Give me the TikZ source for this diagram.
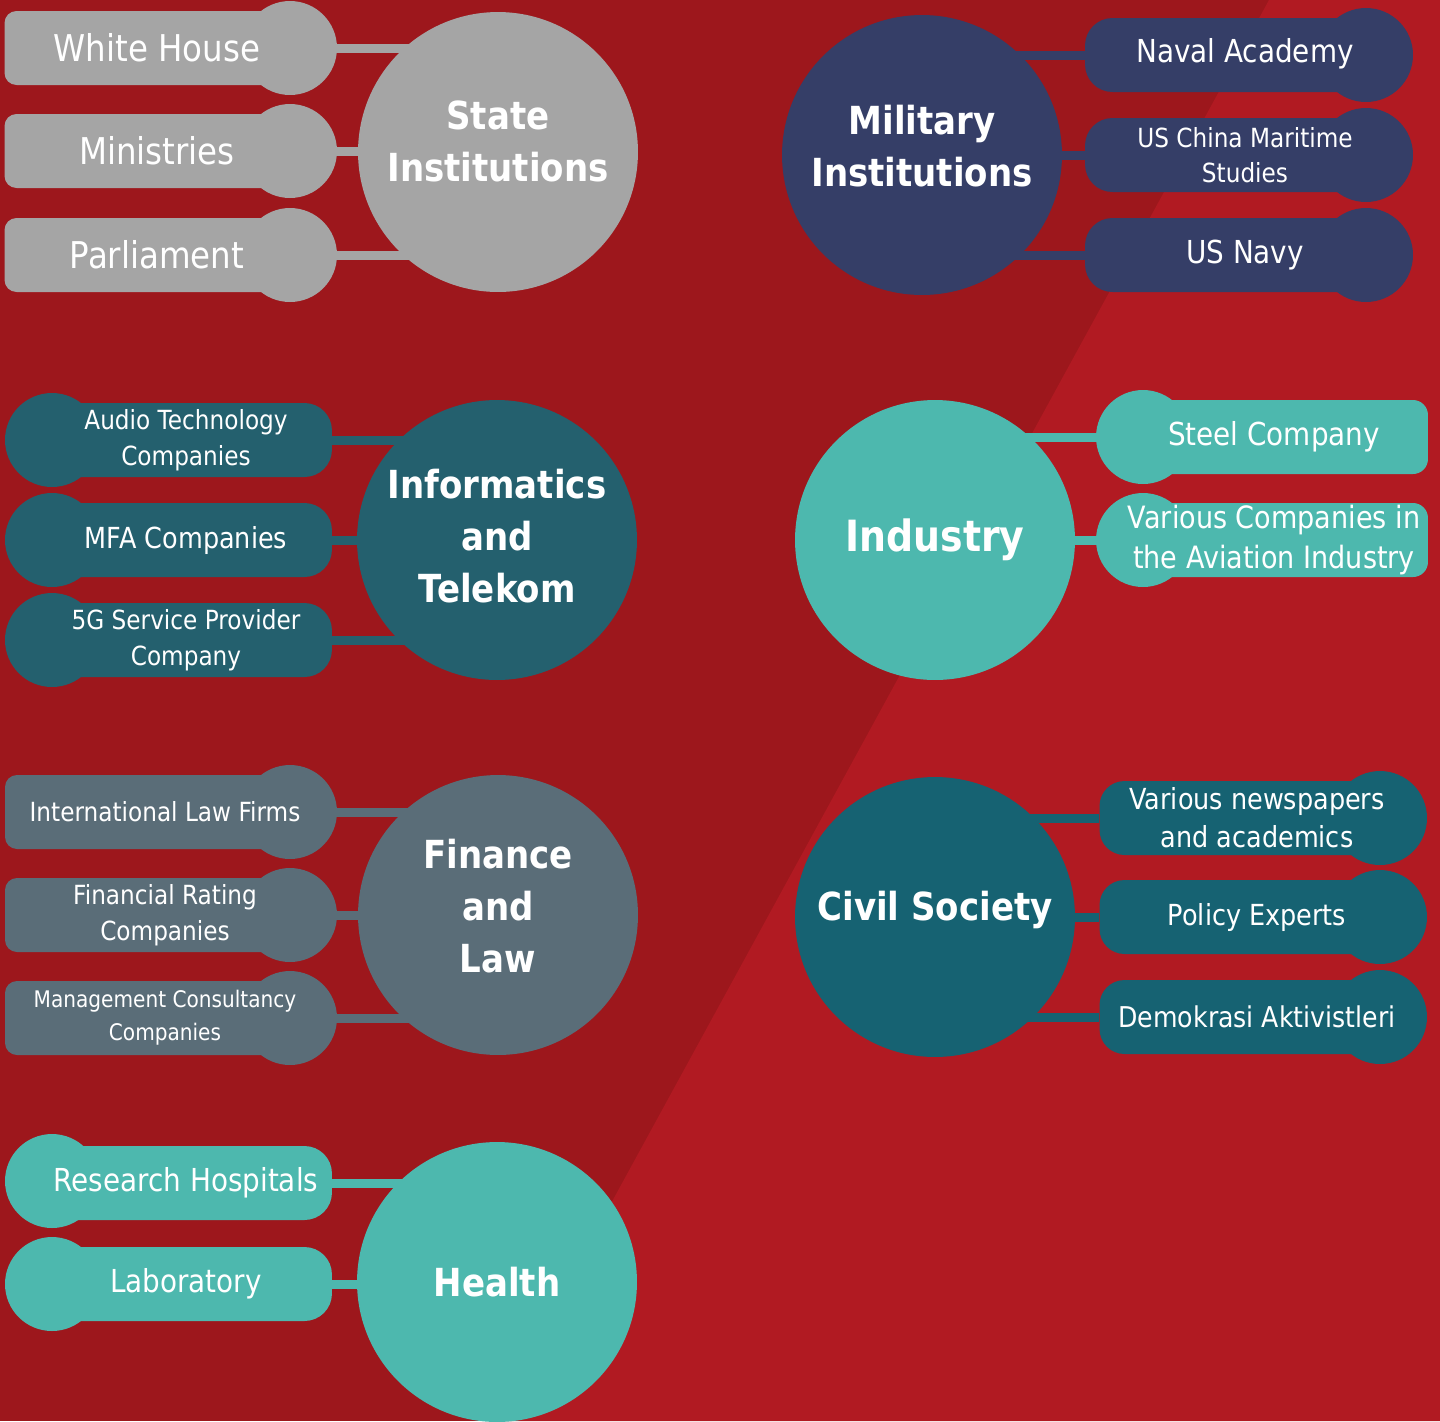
\documentclass[tikz,border=0pt]{standalone}
\usepackage{fontspec}
\setmainfont{DejaVu Sans}[FakeStretch=0.88]
\usetikzlibrary{backgrounds}

\definecolor{bgdark}{HTML}{9D171C}
\definecolor{bglight}{HTML}{B11A22}
\definecolor{stategray}{HTML}{A5A5A5}
\definecolor{navy}{HTML}{353E67}
\definecolor{infoteal}{HTML}{24606E}
\definecolor{aqua}{HTML}{4DB8AE}
\definecolor{slate}{HTML}{5A6D78}
\definecolor{civilteal}{HTML}{166272}

\begin{document}
\begin{tikzpicture}[
x=0.02cm, y=-0.02cm,
hub/.style={
circle,
minimum size=5.6cm,
inner sep=0 pt,
text=white,
align=center,
font=\fontsize{22}{29.6}\bfseries,
},
lift/.style={text depth=#1},
leaf/.style={
rectangle,
rounded corners=0.55cm,
minimum height=1.48cm,
inner sep=0 pt,
text=white,
align=center,
},
knob/.style={circle, minimum size=1.88cm, inner sep=0 pt},
link/.style={line width=0.18cm},
]
\useasboundingbox (0,0) rectangle (1440,1421);

% state institutions
\node [hub, fill=stategray, lift=12.5pt] at (498,152) (state) {State\\Institutions};
\node [knob, fill=stategray] at (290,48) (whk) {};
\node [knob, fill=stategray] at (290,151) (mik) {};
\node [knob, fill=stategray] at (290,255) (pak) {};
\node [leaf, fill=stategray, rounded corners=0.24cm, minimum width=6.1cm,
font=\fontsize{21}{25}\selectfont] at (157,48) (wh) {White House};
\node [leaf, fill=stategray, rounded corners=0.24cm, minimum width=6.1cm,
font=\fontsize{21}{25}\selectfont] at (157,151) (mi) {Ministries};
\node [leaf, fill=stategray, rounded corners=0.24cm, minimum width=6.1cm,
font=\fontsize{21}{25}\selectfont] at (157,255) (pa) {Parliament};

% military institutions
\node [hub, fill=navy, lift=11pt] at (922,155) (military) {Military\\Institutions};
\node [knob, fill=navy] at (1366,55) (nak) {};
\node [knob, fill=navy] at (1366,155) (uck) {};
\node [knob, fill=navy] at (1366,255) (unk) {};
\node [leaf, fill=navy, minimum width=6.4cm, lift=5pt,
font=\fontsize{18}{22}\selectfont] at (1245,55) (na) {Naval Academy};
\node [leaf, fill=navy, minimum width=6.4cm,
font=\fontsize{15}{20}\selectfont] at (1245,155) (uc) {US China Maritime\\Studies};
\node [leaf, fill=navy, minimum width=6.4cm,
font=\fontsize{18}{22}\selectfont] at (1245,255) (un) {US Navy};

% informatics and telekom
\node [hub, fill=infoteal, lift=4.5pt] at (497,540) (info) {Informatics\\and\\Telekom};
\node [knob, fill=infoteal] at (52,440) (atk) {};
\node [knob, fill=infoteal] at (52,540) (mfak) {};
\node [knob, fill=infoteal] at (52,640) (fgk) {};
\node [leaf, fill=infoteal, minimum width=5.84cm,
font=\fontsize{15}{20.5}\selectfont] at (186,440) (at) {Audio Technology\\Companies};
\node [leaf, fill=infoteal, minimum width=5.84cm,
font=\fontsize{16.5}{20.5}\selectfont] at (186,540) (mfa) {MFA Companies};
\node [leaf, fill=infoteal, minimum width=5.84cm,
font=\fontsize{15}{20.5}\selectfont] at (186,640) (fg) {5G Service Provider\\Company};

% industry
\node [hub, fill=aqua, font=\fontsize{24.5}{30}\bfseries] at (935,540) (industry) {Industry};
\node [knob, fill=aqua] at (1143,437) (sck) {};
\node [knob, fill=aqua] at (1143,540) (vck) {};
\node [leaf, fill=aqua, rounded corners=0.3cm, minimum width=6.16cm,
font=\fontsize{18}{22}\selectfont] at (1274,437) (sc) {Steel Company};
\node [leaf, fill=aqua, rounded corners=0.3cm, minimum width=6.16cm,
font=\fontsize{17.5}{22.8}\selectfont] at (1274,540) (vc) {Various Companies in\\the Aviation Industry};

% finance and law
\node [hub, fill=slate, lift=11pt] at (498,915) (finance) {Finance\\and\\Law};
\node [knob, fill=slate] at (290,812) (ilk) {};
\node [knob, fill=slate] at (290,915) (frk) {};
\node [knob, fill=slate] at (290,1018) (mck) {};
\node [leaf, fill=slate, rounded corners=0.24cm, minimum width=6.4cm,
font=\fontsize{15}{20.5}\selectfont] at (165,812) (il) {International Law Firms};
\node [leaf, fill=slate, rounded corners=0.24cm, minimum width=6.4cm,
font=\fontsize{15}{20.5}\selectfont] at (165,915) (fr) {Financial Rating\\Companies};
\node [leaf, fill=slate, rounded corners=0.24cm, minimum width=6.4cm,
font=\fontsize{13}{18.8}\selectfont] at (165,1018) (mc) {Management Consultancy\\Companies};

% civil society
\node [hub, fill=civilteal, lift=13pt] at (935,917) (civil) {Civil Society};
\node [knob, fill=civilteal] at (1380,818) (vnk) {};
\node [knob, fill=civilteal] at (1380,917) (pek) {};
\node [knob, fill=civilteal] at (1380,1017) (dak) {};
\node [leaf, fill=civilteal, rounded corners=0.5cm, minimum width=6.3cm,
font=\fontsize{16.5}{21.6}\selectfont] at (1257,818) (vn) {Various newspapers\\and academics};
\node [leaf, fill=civilteal, rounded corners=0.5cm, minimum width=6.3cm,
font=\fontsize{16.5}{21.6}\selectfont] at (1257,917) (pe) {Policy Experts};
\node [leaf, fill=civilteal, rounded corners=0.5cm, minimum width=6.3cm,
font=\fontsize{16.3}{21.6}\selectfont] at (1257,1017) (da) {Demokrasi Aktivistleri};

% health
\node [hub, fill=aqua] at (497,1282) (health) {Health};
\node [knob, fill=aqua] at (52,1181) (rhk) {};
\node [knob, fill=aqua] at (52,1284) (lbk) {};
\node [leaf, fill=aqua, minimum width=5.84cm,
font=\fontsize{18}{22}\selectfont] at (186,1183) (rh) {Research Hospitals};
\node [leaf, fill=aqua, minimum width=5.84cm,
font=\fontsize{18}{22}\selectfont] at (186,1284) (lb) {Laboratory};

% backdrop and links
\begin{scope}[on background layer]
\fill[bgdark] (0,0) rectangle (1440,1421);
\fill[bglight] (1269,0) -- (1440,0) -- (1440,1421) -- (492,1421) -- cycle;
\foreach \l in {wh,mi,pa} \draw[link, stategray] (\l) -- (\l -| state);
\foreach \l in {na,uc,un} \draw[link, navy] (\l) -- (\l -| military);
\foreach \l in {at,mfa,fg} \draw[link, infoteal] (\l) -- (\l -| info);
\foreach \l in {sc,vc} \draw[link, aqua] (\l) -- (\l -| industry);
\foreach \l in {il,fr,mc} \draw[link, slate] (\l) -- (\l -| finance);
\foreach \l in {vn,pe,da} \draw[link, civilteal] (\l) -- (\l -| civil);
\foreach \l in {rh,lb} \draw[link, aqua] (\l) -- (\l -| health);
\end{scope}

\end{tikzpicture}
\end{document}
